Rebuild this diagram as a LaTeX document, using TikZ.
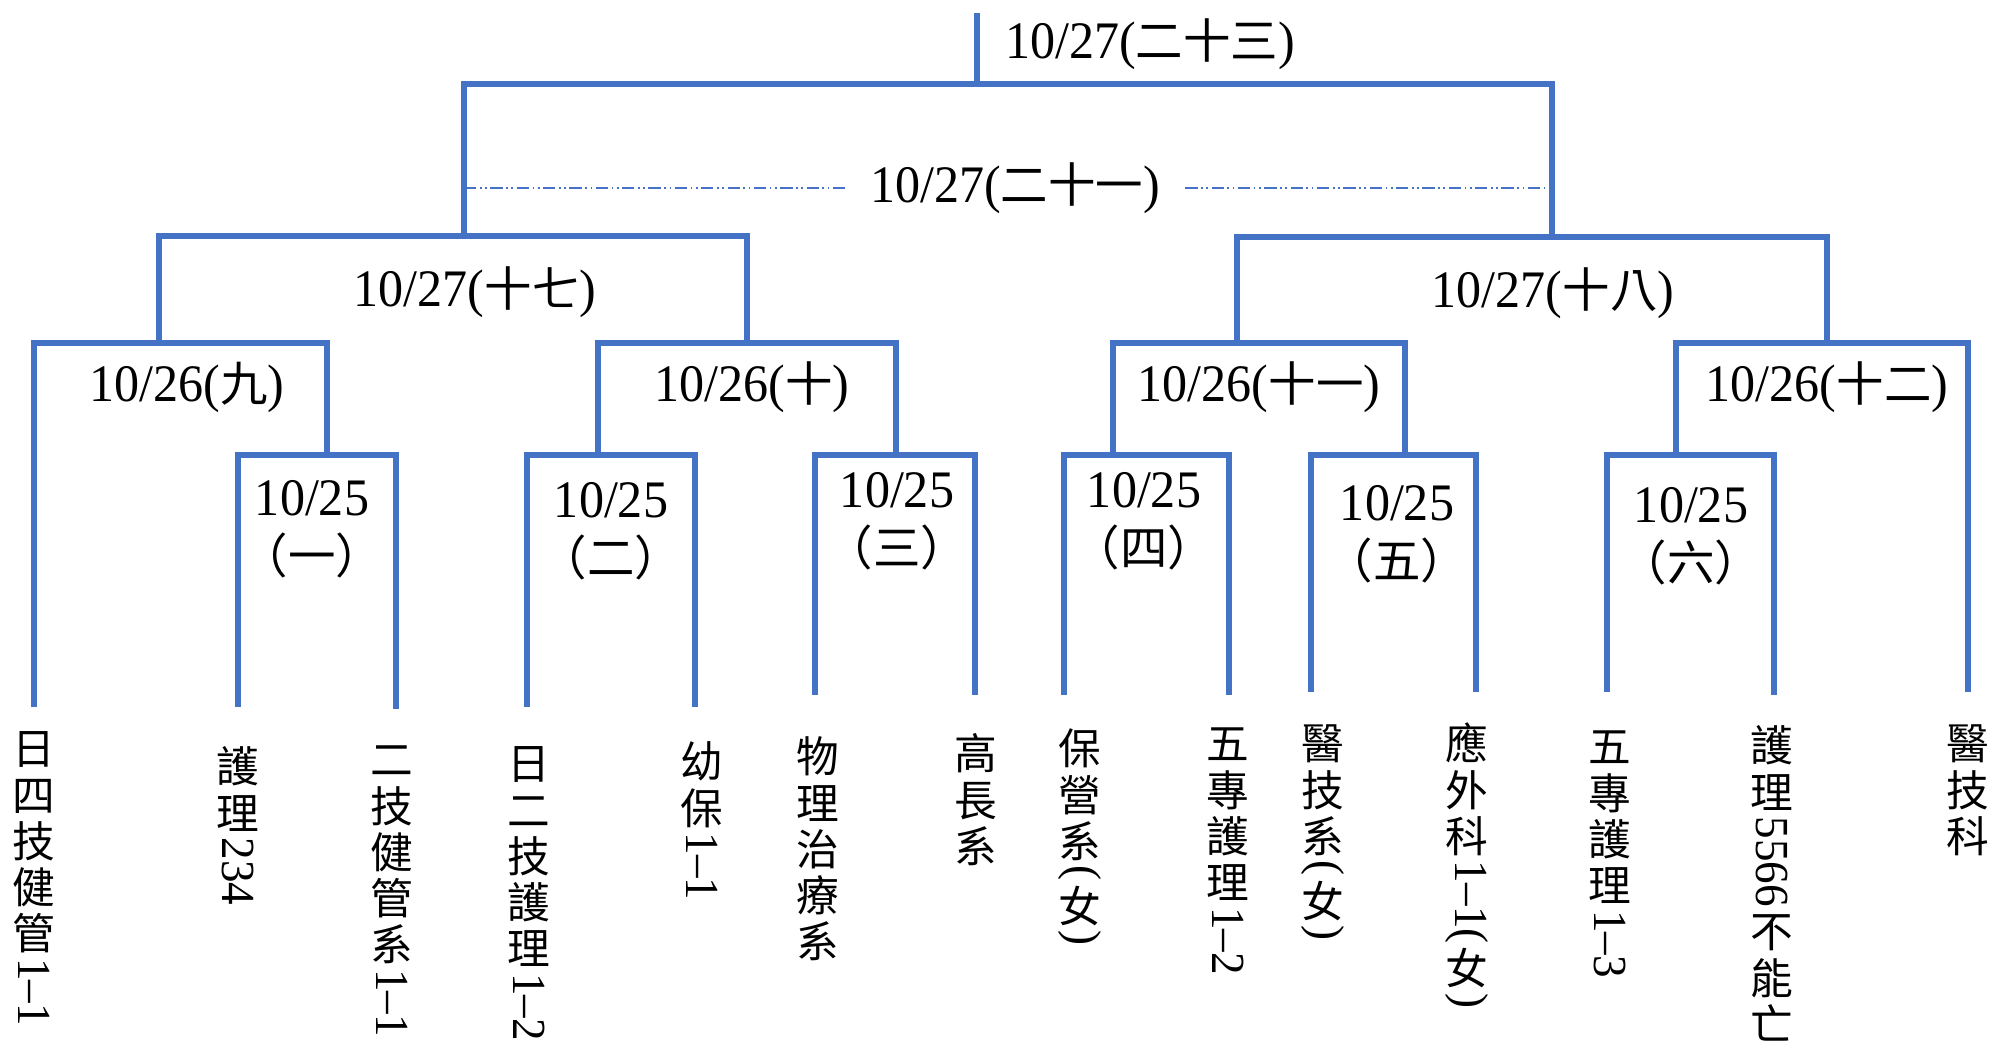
\documentclass[tikz,border=0pt]{standalone}
\usepackage{fontspec}
\usepackage{graphicx}
\setmainfont[FakeStretch=0.95]{Liberation Serif}
\newfontfamily\cjk[Scale=0.9]{Noto Sans CJK TC}
\definecolor{barblue}{HTML}{4472C4}
\newcommand\zh[1]{{\cjk #1}}
% 直排文字:中文逐字直立,數字與括號轉九十度
\def\vtEnd{}
\def\vt#1{\vtloop#1\vtEnd}
\def\vtloop#1{\ifx\vtEnd#1\else\hbox to 1.2em{\hss\rule[-0.12em]{0pt}{1em}#1\hss}\expandafter\vtloop\fi}
\newcommand\vr[1]{\hbox to 1.2em{\hss\raisebox{\depth}{\rotatebox{-90}{\rmfamily #1}}\hss}}

\begin{document}
\begin{tikzpicture}[x=0.02cm, y=-0.02cm,
  bar/.style={draw=barblue, line width=3pt},
  dashln/.style={draw=barblue, line width=0.8pt, dash pattern=on 7pt off 2pt on 1pt off 2pt on 1pt off 2pt},
  date/.style={font=\fontsize{30pt}{33pt}\selectfont, inner sep=0pt},
  round25/.style={date, align=center, anchor=north},
  leaf/.style={font=\fontsize{27pt}{27pt}\selectfont\cjk, inner sep=0pt, anchor=north,
    execute at begin node={\vbox\bgroup\baselineskip=0pt\lineskiplimit=0pt\lineskip=2pt},
    execute at end node={\egroup}}]
\useasboundingbox (0,0) rectangle (1995,1048);

% 冠軍與決賽
\coordinate (top) at (977,13);
\coordinate (fin) at (977,84);
\coordinate (s17) at (464,236);
\coordinate (s18) at (1552,237);
\coordinate (dl) at (464,188);
\coordinate (dr) at (1552,188);
\draw[bar] (top) -- (fin);
\draw[bar] (s17) |- (fin) -| (s18);
\node[date] (t23) at (1150,44) {10/27(\zh{二十三})};
\node[date, inner xsep=0.5cm] (t21) at (1015,188) {10/27(\zh{二十一})};
\draw[dashln] (dl) -- (t21);
\draw[dashln] (t21) -- (dr);

% 左半區
\begin{scope}
\coordinate (q9) at (159,343);
\coordinate (q10) at (747,343);
\coordinate (r1) at (327,455);
\coordinate (r2) at (598,455);
\coordinate (r3) at (896,455);
\coordinate (e1) at (34,707);
\coordinate (e2) at (238,707);
\coordinate (e3) at (396,709);
\coordinate (e4) at (527,707);
\coordinate (e5) at (695,707);
\coordinate (e6) at (815,695);
\coordinate (e7) at (975,695);
\draw[bar] (q9) |- (s17) -| (q10);
\draw[bar] (e1) |- (q9) -| (r1);
\draw[bar] (r2) |- (q10) -| (r3);
\draw[bar] (e2) |- (r1) -| (e3);
\draw[bar] (e4) |- (r2) -| (e5);
\draw[bar] (e6) |- (r3) -| (e7);
\node[date] (t17) at (475,292) {10/27(\zh{十七})};
\node[date] (t9) at (187,387) {10/26(\zh{九})};
\node[date] (t10) at (752,387) {10/26(\zh{十})};
\node[round25] (t1) at (312,480) {10/25\\\zh{（一）}};
\node[round25] (t2) at (611,482) {10/25\\\zh{（二）}};
\node[round25] (t3) at (897,472) {10/25\\\zh{（三）}};
\node[leaf] (n1) at (34,727) {\vt{日四技健管}\vr{1--1}};
\node[leaf] (n2) at (238,745) {\vt{護理}\vr{234}};
\node[leaf] (n3) at (392,738) {\vt{二技健管系}\vr{1--1}};
\node[leaf] (n4) at (529,742) {\vt{日二技護理}\vr{1--2}};
\node[leaf] (n5) at (702,740) {\vt{幼保}\vr{1--1}};
\node[leaf] (n6) at (818,735) {\vt{物理治療系}};
\node[leaf] (n7) at (976,732) {\vt{高長系}};
\end{scope}

% 右半區
\begin{scope}
\coordinate (q11) at (1237,343);
\coordinate (q12) at (1827,343);
\coordinate (r4) at (1113,455);
\coordinate (r5) at (1405,455);
\coordinate (r6) at (1676,455);
\coordinate (e8) at (1064,695);
\coordinate (e9) at (1229,695);
\coordinate (e10) at (1311,692);
\coordinate (e11) at (1476,692);
\coordinate (e12) at (1607,692);
\coordinate (e13) at (1774,695);
\coordinate (e14) at (1968,692);
\draw[bar] (q11) |- (s18) -| (q12);
\draw[bar] (r4) |- (q11) -| (r5);
\draw[bar] (r6) |- (q12) -| (e14);
\draw[bar] (e8) |- (r4) -| (e9);
\draw[bar] (e10) |- (r5) -| (e11);
\draw[bar] (e12) |- (r6) -| (e13);
\node[date] (t18) at (1553,293) {10/27(\zh{十八})};
\node[date] (t11) at (1259,387) {10/26(\zh{十一})};
\node[date] (t12) at (1827,387) {10/26(\zh{十二})};
\node[round25] (t4) at (1144,472) {10/25\\\zh{（四）}};
\node[round25] (t5) at (1397,485) {10/25\\\zh{（五）}};
\node[round25] (t6) at (1691,487) {10/25\\\zh{（六）}};
\node[leaf] (n8) at (1080,727) {\vt{保營系}\vr{(}\vt{女}\vr{)}};
\node[leaf] (n9) at (1228,722) {\vt{五專護理}\vr{1--2}};
\node[leaf] (n10) at (1323,722) {\vt{醫技系}\vr{(}\vt{女}\vr{)}};
\node[leaf] (n11) at (1467,722) {\vt{應外科}\vr{1--1(}\vt{女}\vr{)}};
\node[leaf] (n12) at (1610,725) {\vt{五專護理}\vr{1--3}};
\node[leaf] (n13) at (1772,724) {\vt{護理}\vr{5566}\vt{不能亡}};
\node[leaf] (n14) at (1968,722) {\vt{醫技科}};
\end{scope}
\end{tikzpicture}
\end{document}
